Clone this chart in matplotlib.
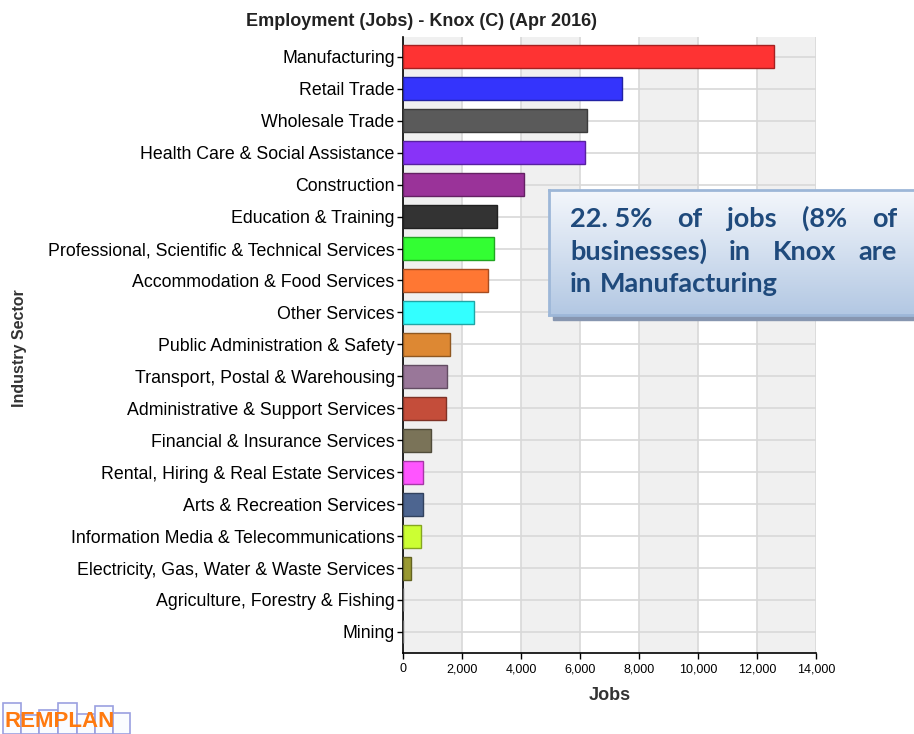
import numpy as np
import matplotlib.pyplot as plt
import matplotlib.colors as mcolors
from matplotlib.patches import Rectangle

# data
sectors = [
    "Manufacturing", "Retail Trade", "Wholesale Trade",
    "Health Care & Social Assistance", "Construction", "Education & Training",
    "Professional, Scientific & Technical Services",
    "Accommodation & Food Services", "Other Services",
    "Public Administration & Safety", "Transport, Postal & Warehousing",
    "Administrative & Support Services", "Financial & Insurance Services",
    "Rental, Hiring & Real Estate Services", "Arts & Recreation Services",
    "Information Media & Telecommunications",
    "Electricity, Gas, Water & Waste Services",
    "Agriculture, Forestry & Fishing", "Mining",
]
jobs = [12590, 7440, 6250, 6180, 4110, 3200, 3070, 2890, 2410, 1600,
        1480, 1450, 950, 670, 680, 610, 280, 0, 0]
bar_colors = ["#fe3333", "#3434fc", "#5a5a5a", "#8833f8", "#9a3399",
              "#333333", "#33fe33", "#ff7733", "#33ffff", "#dd8833",
              "#997799", "#c44d3a", "#7a7358", "#ff55ff", "#4d6590",
              "#ccff33", "#999933", "#999999", "#999999"]
xticks = [0, 2000, 4000, 6000, 8000, 10000, 12000, 14000]
note_lines = [["22. 5%", "of", "jobs", "(8%", "of"],
              ["businesses)", "in", "Knox", "are"],
              ["in", "Manufacturing"]]

W, H = 914, 734
fig = plt.figure(figsize=(W / 100, H / 100), dpi=100)
ax = fig.add_axes([403 / W, (H - 653) / H, (816 - 403) / W, (653 - 37) / H])

# alternating grey bands
for i in range(0, len(xticks) - 1, 2):
    ax.axvspan(xticks[i], xticks[i + 1], color="#f0f0f0", zorder=0, lw=0)

y = np.arange(len(sectors))
edges = [tuple(np.array(mcolors.to_rgb(c)) * 0.65) for c in bar_colors]
ax.barh(y, jobs, height=0.72, color=bar_colors, edgecolor=edges,
        linewidth=1, zorder=3)

ax.set_xlim(0, 14000)
ax.set_ylim(len(sectors) - 1 + 0.66, -0.62)
ax.set_yticks(y)
ax.set_yticklabels(sectors, fontsize=12.8, family="Liberation Sans")
ax.set_xticks(xticks)
ax.set_xticklabels([f"{v:,}" for v in xticks], fontsize=9,
                   family="Liberation Sans")
ax.tick_params(length=4, width=1, color="black")
ax.tick_params(axis="y", pad=2)
ax.grid(True, color="#d8d8d8", lw=1.2, zorder=1)
ax.set_axisbelow(True)
for s in ["top", "right"]:
    ax.spines[s].set_visible(False)
for s in ["left", "bottom"]:
    ax.spines[s].set_linewidth(1.2)

ax.set_xlabel("Jobs", fontsize=13, fontweight="bold", color="#333333",
              family="Liberation Sans", labelpad=8)
fig.text(20 / W, 1 - 348 / H, "Industry Sector", rotation=90, fontsize=11.5,
         fontweight="bold", color="#333333", family="Liberation Sans",
         ha="center", va="center")
fig.text(422 / W, 1 - 22 / H, "Employment (Jobs) - Knox (C) (Apr 2016)",
         fontsize=13, fontweight="bold", color="#222222",
         family="Liberation Sans", ha="center", va="center")

# annotation box with gradient and shadow
bx0, bx1, by0, by1 = 549, 930, 190, 315
fig.patches.append(Rectangle(((bx0 + 4) / W, 1 - (by1 + 5) / H),
                             (bx1 - bx0) / W, (by1 - by0) / H,
                             transform=fig.transFigure, color="#8796b0",
                             zorder=5))
bax = fig.add_axes([bx0 / W, 1 - by1 / H, (bx1 - bx0) / W, (by1 - by0) / H],
                   zorder=6)
grad = np.linspace(0, 1, 100).reshape(-1, 1)
cmap = mcolors.LinearSegmentedColormap.from_list("g", ["#f4f7fc", "#b3c8e3"])
bax.imshow(grad, aspect="auto", cmap=cmap, extent=[0, 1, 1, 0])
bax.set_xlim(0, 1)
bax.set_ylim(1, 0)
bax.set_xticks([])
bax.set_yticks([])
for s in bax.spines.values():
    s.set_color("#9db7d8")
    s.set_linewidth(2)

# justified text inside the box
fig.canvas.draw()
renderer = fig.canvas.get_renderer()
left_px, right_px = 570, 897
line_y = [227, 259.5, 292]
for k, words in enumerate(note_lines):
    texts = [fig.text(0, 1 - line_y[k] / H, w, fontsize=19.5,
                      fontweight="bold", color="#1f4a7c", family="Lato",
                      va="baseline", zorder=7) for w in words]
    widths = [t.get_window_extent(renderer).width for t in texts]
    if k < len(note_lines) - 1:
        gap = (right_px - left_px - sum(widths)) / (len(words) - 1)
    else:
        gap = 8
    x = left_px
    for t, w in zip(texts, widths):
        t.set_x(x / W)
        x += w + gap

# REMPLAN logo
logo_bars = [(3, 703), (21, 715), (39, 710), (58, 703), (77, 714),
             (95, 706), (113, 713)]
for i, (lx, top) in enumerate(logo_bars):
    right = logo_bars[i + 1][0] if i + 1 < len(logo_bars) else 130
    fig.patches.append(Rectangle((lx / W, 0), (right - lx) / W,
                                 (H - top) / H, transform=fig.transFigure,
                                 facecolor="#fafcff", edgecolor="#9aa0e0",
                                 lw=1.2, zorder=1))
fig.text(4 / W, 2 / H, "REMPLAN", fontsize=16, fontweight="bold",
         color="#ff7a10", family="Liberation Sans", ha="left",
         va="bottom", zorder=2)

fig.savefig("out.png", dpi=100)
